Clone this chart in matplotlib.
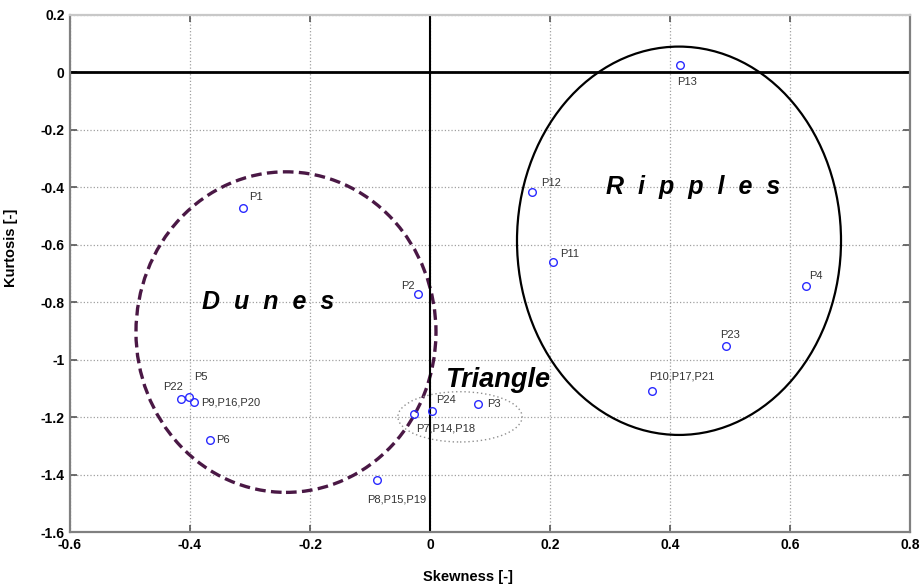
import numpy as np
import matplotlib
matplotlib.use('Agg')
from matplotlib import pyplot as plt
from matplotlib.patches import Ellipse

plt.rcParams['font.family'] = ['Liberation Sans', 'DejaVu Sans']

# Sample points (skewness, kurtosis)
labels = ['P13', 'P12', 'P11', 'P4', 'P23', 'P10,P17,P21', 'P1', 'P2', 'P22', 'P5',
          'P9,P16,P20', 'P6', 'P8,P15,P19', 'P7,P14,P18', 'P24', 'P3']
skew = [0.417, 0.170, 0.205, 0.627, 0.493, 0.370, -0.312, -0.020, -0.415, -0.401,
        -0.393, -0.366, -0.088, -0.026, 0.003, 0.080]
kurt = [0.027, -0.417, -0.661, -0.745, -0.951, -1.110, -0.471, -0.773, -1.137, -1.129,
        -1.149, -1.280, -1.420, -1.189, -1.180, -1.153]

# label offsets in pixels (dx, dy)
lab_off = [(-3, -17), (9, 9), (7, 8), (3, 10), (-6, 11), (-3, 15), (6, 11), (-3, 8),
           (-18, 12), (5, 20), (7, 0), (6, 0), (-10, -19), (2, -15), (4, 11), (9, 0)]

# cluster envelopes: centre, full width, full height
clusters = ['Dunes', 'Ripples', 'Triangle']
cl_x = [-0.240, 0.415, 0.050]
cl_y = [-0.904, -0.586, -1.199]
cl_w = [0.500, 0.540, 0.207]
cl_h = [1.116, 1.352, 0.175]
cl_text = ['D  u  n  e  s', 'R  i  p  p  l  e  s', 'Triangle']
cl_tx = [-0.269, 0.439, 0.1125]
cl_ty = [-0.799, -0.398, -1.071]
cl_size = [18, 18, 19.5]

fig = plt.figure(figsize=(9.22, 5.88), dpi=100)
ax = fig.add_axes([0.0759, 0.0952, 0.9111, 0.8793])

ax.grid(True, linestyle=':', color='#a0a0a0', linewidth=0.9)
ax.set_axisbelow(True)
ax.axhline(0, color='k', lw=2)
ax.axvline(0, color='k', lw=1.5)

styles = [dict(edgecolor='#4a1845', linestyle=(0, (3.2, 1.6)), linewidth=2.4),
          dict(edgecolor='k', linestyle='-', linewidth=1.6),
          dict(edgecolor='#909090', linestyle=(0, (1, 2)), linewidth=1.0)]
for i in range(len(clusters)):
    ax.add_patch(Ellipse((cl_x[i], cl_y[i]), cl_w[i], cl_h[i], facecolor='none', **styles[i]))
    ax.text(cl_tx[i], cl_ty[i], cl_text[i], fontsize=cl_size[i], fontweight='bold',
            style='italic', ha='center', va='center')

ax.plot(skew, kurt, 'o', markerfacecolor='none', markeredgecolor='#2a2aff',
        markersize=5.5, markeredgewidth=1.0, zorder=5)

for i in range(len(labels)):
    dx, dy = lab_off[i]
    ha = 'right' if labels[i] == 'P2' else 'left'
    ax.annotate(labels[i], (skew[i], kurt[i]), xytext=(dx, dy), textcoords='offset pixels',
                fontsize=8, color='#333333', ha=ha, va='center')

ax.set_xlim(-0.6, 0.8)
ax.set_ylim(-1.6, 0.2)
ax.set_xticks(np.arange(-0.6, 0.81, 0.2))
ax.set_yticks(np.arange(-1.6, 0.21, 0.2))
ax.set_xticklabels(['-0.6', '-0.4', '-0.2', '0', '0.2', '0.4', '0.6', '0.8'])
ax.set_yticklabels(['-1.6', '-1.4', '-1.2', '-1', '-0.8', '-0.6', '-0.4', '-0.2', '0', '0.2'])
ax.tick_params(direction='in', length=5, width=1.2, color='#555555', top=True, right=True,
               labelsize=10, pad=4)
for lab in ax.get_xticklabels() + ax.get_yticklabels():
    lab.set_fontweight('bold')

for s in ['left', 'bottom', 'right']:
    ax.spines[s].set_color('#808080')
    ax.spines[s].set_linewidth(1.6)
ax.spines['top'].set_color('#c8c8c8')
ax.spines['top'].set_linewidth(1.6)

ax.set_xlabel('Skewness [-]', fontsize=10.5, fontweight='bold')
ax.set_ylabel('Kurtosis [-]', fontsize=10.5, fontweight='bold')
ax.xaxis.set_label_coords(0.474, -0.073)
ax.yaxis.set_label_coords(-0.062, 0.55)

plt.savefig('out.png', dpi=100)
